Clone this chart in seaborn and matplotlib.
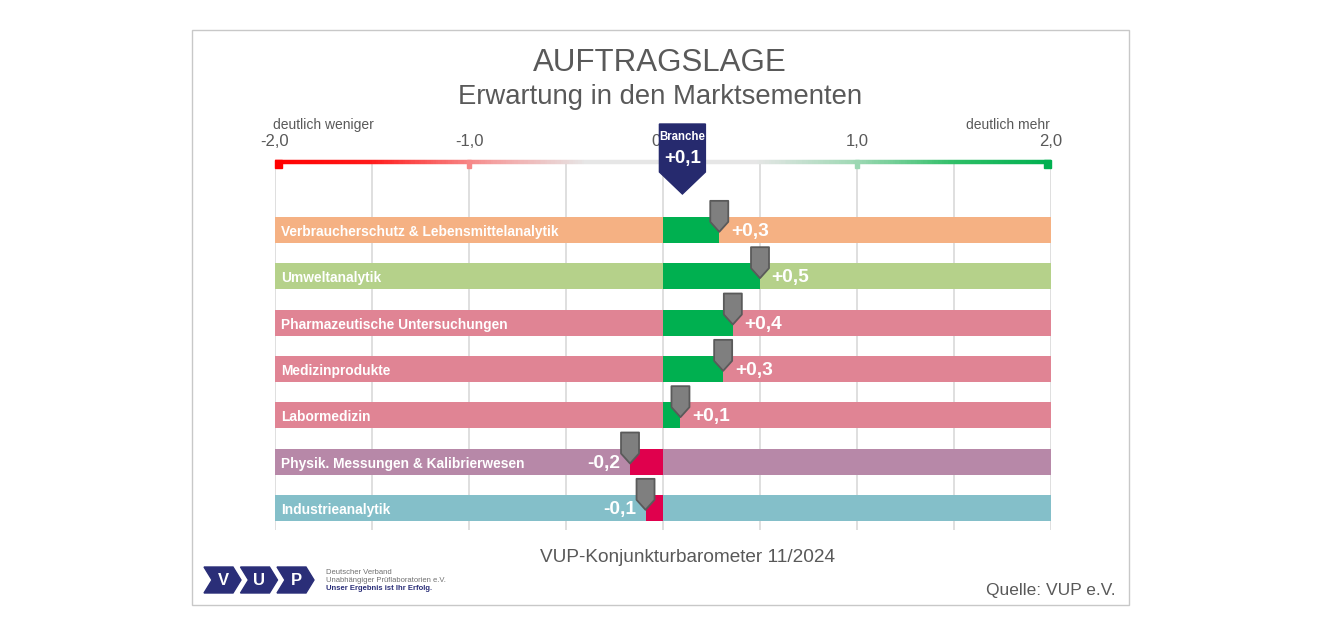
import numpy as np
import matplotlib
matplotlib.use('Agg')
import matplotlib.pyplot as plt
import seaborn as sns
from matplotlib.patches import Polygon, Rectangle
from matplotlib.collections import LineCollection
from matplotlib.colors import LinearSegmentedColormap

# data
segments = ['Verbraucherschutz & Lebensmittelanalytik', 'Umweltanalytik',
            'Pharmazeutische Untersuchungen', 'Medizinprodukte', 'Labormedizin',
            'Physik. Messungen & Kalibrierwesen', 'Industrieanalytik']
values = [0.29, 0.50, 0.36, 0.31, 0.09, -0.17, -0.09]
value_labels = ['+0,3', '+0,5', '+0,4', '+0,3', '+0,1', '-0,2', '-0,1']
segment_colors = ['#F5B183', '#B5D18A', '#E08494', '#E08494', '#E08494', '#B788A8', '#84BFC9']
branche_value = 0.10
branche_label = '+0,1'
tick_values = [-2, -1, 0, 1, 2]
tick_labels = ['-2,0', '-1,0', '0', '1,0', '2,0']

sns.set_style('white')
plt.rcParams['font.family'] = ['Liberation Sans', 'DejaVu Sans']

fig = plt.figure(figsize=(13.2, 6.36), dpi=100)

# background axes in pixel coords for frame, titles and logo
bg = fig.add_axes([0, 0, 1, 1])
bg.set_xlim(0, 1320)
bg.set_ylim(636, 0)
bg.axis('off')
bg.add_patch(Rectangle((192, 30), 937, 575, fill=False, edgecolor='#C8C8C8', lw=1))
bg.text(660, 63, 'AUFTRAGSLAGE', ha='center', va='center', fontsize=22.5, color='#595959')
bg.text(660, 97, 'Erwartung in den Marktsementen', ha='center', va='center', fontsize=19.8, color='#595959')
bg.text(687, 557, 'VUP-Konjunkturbarometer 11/2024', ha='center', va='center', fontsize=13.7, color='#595959')
bg.text(1116, 591, 'Quelle: VUP e.V.', ha='right', va='center', fontsize=12.5, color='#595959')

# logo
navy = '#2A2E78'
for i, letter in enumerate(['V', 'U', 'P']):
    x0 = 204 + i * 36.5
    pts = [(x0, 567), (x0 + 29, 567), (x0 + 37, 580), (x0 + 29, 593), (x0, 593), (x0 + 8, 580)]
    bg.add_patch(Polygon(pts, closed=True, color=navy))
    bg.text(x0 + 19, 580.5, letter, ha='center', va='center', fontsize=12, color='white', weight='bold')
bg.text(326, 572, 'Deutscher Verband', fontsize=5.5, color='#707070', va='center')
bg.text(326, 580.5, 'Unabhängiger Prüflaboratorien e.V.', fontsize=5.5, color='#707070', va='center')
bg.text(326, 589, 'Unser Ergebnis ist Ihr Erfolg.', fontsize=5.5, color=navy, va='center', weight='bold')

# main axes: x -2..2 -> px 275..1051, rows at px 230 + 46.33*i
ax = fig.add_axes([275 / 1320, 1 - 530 / 636, 776 / 1320, 400 / 636])
ax.patch.set_alpha(0)
row_px = 46.33
ybot = (530 - 230) / row_px
ytop = (130 - 230) / row_px
y_scale = (162 - 230) / row_px

# grid lines
for gx in np.arange(-2, 2.01, 0.5):
    ax.vlines(gx, y_scale, ybot, color='#D9D9D9', lw=1.2, zorder=0)

# background bars
rows = np.arange(len(segments))
ax.barh(rows, 4, left=-2, height=0.56, color=segment_colors, linewidth=0, zorder=1)

# value bars
bar_colors = ['#00B050' if v >= 0 else '#E0004D' for v in values]
sns.barplot(x=values, y=segments, hue=segments, palette=bar_colors, legend=False,
            orient='h', width=0.56, ax=ax, zorder=2, saturation=1, linewidth=0)

# gradient scale line
cmap = LinearSegmentedColormap.from_list('scale', [
    (0.0, '#FF0000'), (0.12, '#FF1A1A'), (0.28, '#F4A0A0'), (0.40, '#E6E6E6'),
    (0.62, '#E6E6E6'), (0.75, '#9ED8B4'), (0.88, '#2DBE66'), (1.0, '#00B050')])
xs = np.linspace(-2, 2, 400)
segs = [[(xs[i], y_scale), (xs[i + 1], y_scale)] for i in range(len(xs) - 1)]
lc = LineCollection(segs, colors=cmap(np.linspace(0, 1, len(segs))), lw=3.2, zorder=3)
ax.add_collection(lc)
for tv in tick_values:
    if tv == 0:
        continue
    c = cmap((tv + 2) / 4)
    size = 0.035 if abs(tv) == 2 else 0.025
    ax.add_patch(Rectangle((tv - size / 2 * (1 if abs(tv) == 1 else 0) - (size if tv == 2 else 0), y_scale - 0.04),
                           size, 0.16, color=c, zorder=4, clip_on=False))
for tv, tl in zip(tick_values, tick_labels):
    if tv == 0:
        ax.text(tv - 0.01, (142 - 230) / row_px, tl, ha='right', va='center', fontsize=12, color='#595959')
    else:
        ax.text(tv, (142 - 230) / row_px, tl, ha='center', va='center', fontsize=12, color='#595959')
ax.text(-2.01, (125 - 230) / row_px, 'deutlich weniger', ha='left', va='center', fontsize=10, color='#595959')
ax.text(1.995, (125 - 230) / row_px, 'deutlich mehr', ha='right', va='center', fontsize=10, color='#595959')

# row labels, markers and value labels
mw = 18 / 194
for i, (seg, v, lab) in enumerate(zip(segments, values, value_labels)):
    ax.text(-2 + 0.032, i + 0.04, seg, ha='left', va='center', fontsize=9.9, color='white',
            weight='bold', zorder=5)
    tip = i + 0.04
    top = tip - 31 / row_px
    shoulder = tip - 10 / row_px
    pts = [(v - mw / 2, top), (v + mw / 2, top), (v + mw / 2, shoulder), (v, tip), (v - mw / 2, shoulder)]
    ax.add_patch(Polygon(pts, closed=True, facecolor='#7F7F7F', edgecolor='#5A5A5A', lw=1.3,
                         joinstyle='round', zorder=6))
    if v >= 0:
        ax.text(v + 0.06, i + 0.03, lab, ha='left', va='center', fontsize=13.8, color='white',
                weight='bold', zorder=5)
    else:
        ax.text(v - 0.05, i + 0.03, lab, ha='right', va='center', fontsize=13.8, color='white',
                weight='bold', zorder=5)

# Branche marker
bw = 46 / 194
btop = (124 - 230) / row_px
bsh = (172 - 230) / row_px
btip = (194 - 230) / row_px
bpts = [(branche_value - bw / 2, btop), (branche_value + bw / 2, btop), (branche_value + bw / 2, bsh),
        (branche_value, btip), (branche_value - bw / 2, bsh)]
ax.add_patch(Polygon(bpts, closed=True, color='#262A6E', zorder=7, clip_on=False))
ax.text(branche_value, (137 - 230) / row_px, 'Branche', ha='center', va='center', fontsize=8.3,
        color='white', weight='bold', zorder=8)
ax.text(branche_value, (159 - 230) / row_px, branche_label, ha='center', va='center', fontsize=13.5,
        color='white', weight='bold', zorder=8)

ax.set_xlim(-2, 2)
ax.set_ylim(ybot, ytop)
ax.set_xticks([])
ax.set_yticks([])
ax.set_xlabel('')
ax.set_ylabel('')
sns.despine(ax=ax, left=True, bottom=True)

fig.savefig('out.png', dpi=100)
